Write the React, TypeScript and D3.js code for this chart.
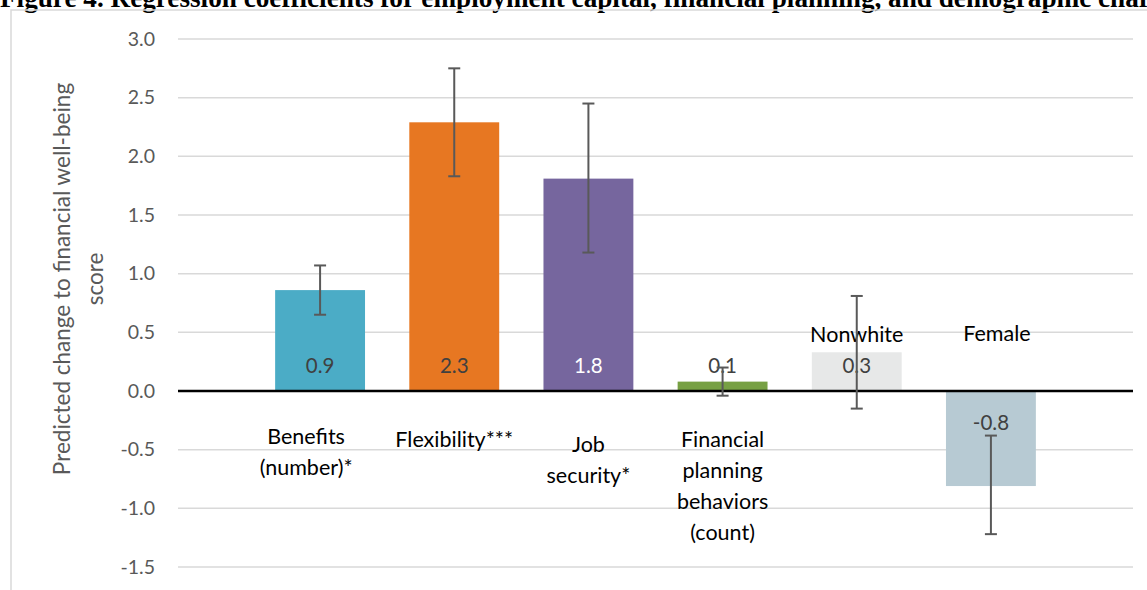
import React from "react";
import * as d3 from "d3";

// Regression coefficients with 95% confidence intervals
const categories = [
  "Benefits (number)*",
  "Flexibility***",
  "Job security*",
  "Financial planning behaviors (count)",
  "Nonwhite",
  "Female",
];
const categoryLines = [
  ["Benefits", "(number)*"],
  ["Flexibility***"],
  ["Job", "security*"],
  ["Financial", "planning", "behaviors", "(count)"],
  ["Nonwhite"],
  ["Female"],
];
const coefficients = [0.86, 2.29, 1.81, 0.08, 0.33, -0.81];
const ciLow = [0.65, 1.83, 1.18, -0.04, -0.15, -1.22];
const ciHigh = [1.07, 2.75, 2.45, 0.2, 0.81, -0.38];
const barColors = ["#4BACC6", "#E77722", "#76669E", "#77A043", "#E7E8E8", "#B7CAD3"];
const valueLabelColors = ["#404040", "#404040", "#FFFFFF", "#404040", "#404040", "#404040"];
const yTicks = [3.0, 2.5, 2.0, 1.5, 1.0, 0.5, 0.0, -0.5, -1.0, -1.5];

const title =
  "Figure 4. Regression coefficients for employment capital, financial planning, and demographic characteristics";
const yTitleLines = ["Predicted change to financial well-being", "score"];

// Category label placement (offset from band centre, first baseline, line spacing)
const labelLayout: Record<string, { dx: number; y: number; lh: number }> = {
  "Benefits (number)*": { dx: -14, y: 444, lh: 31 },
  "Flexibility***": { dx: 0, y: 447, lh: 31 },
  "Job security*": { dx: 0, y: 452, lh: 31 },
  "Financial planning behaviors (count)": { dx: 0, y: 447, lh: 31 },
  Nonwhite: { dx: 0, y: 342, lh: 31 },
  Female: { dx: 6, y: 341, lh: 31 },
};

const W = 1147;
const H = 590;
const FONT = "Lato, 'Open Sans', sans-serif";

// plain hyphen for negatives, one decimal place
const fmt1 = (v: number) => d3.format(".1f")(v).replace("\u2212", "-");

export default function App() {
  const plotLeft = 178;
  const plotRight = 1133;
  const y = d3.scaleLinear().domain([-1.5, 3.0]).range([567, 39]);
  const x = d3
    .scaleBand<string>()
    .domain(categories)
    .range([253, 1058])
    .paddingInner(0.33)
    .paddingOuter(0.165);
  const y0 = y(0);
  const bw = x.bandwidth();

  return (
    <svg
      width={W}
      height={H}
      style={{ position: "absolute", left: 0, top: 0, background: "#fff" }}
    >
      <text
        x={0}
        y={7}
        fontFamily="'Liberation Serif', 'Times New Roman', serif"
        fontWeight="bold"
        fontSize={27.2}
        fill="#000"
      >
        {title}
      </text>
      {/* chart frame */}
      <rect x={11} y={10} width={W} height={H} fill="none" stroke="#D9D9D9" strokeWidth={1.5} />

      {/* gridlines + tick labels */}
      {yTicks.map((t) => (
        <g key={t}>
          {t !== 0 && (
            <line x1={plotLeft} x2={plotRight} y1={y(t)} y2={y(t)} stroke="#D9D9D9" strokeWidth={1.5} />
          )}
          <text
            x={155}
            y={y(t)}
            dy="0.35em"
            textAnchor="end"
            fontFamily={FONT}
            fontSize={19.5}
            fill="#595959"
          >
            {fmt1(t)}
          </text>
        </g>
      ))}

      {/* y axis title */}
      <g transform={`translate(70, 279) rotate(-90)`}>
        {yTitleLines.map((l, i) => (
          <text
            key={i}
            x={0}
            y={i * 33}
            textAnchor="middle"
            fontFamily={FONT}
            fontSize={22.5}
            fill="#595959"
          >
            {l}
          </text>
        ))}
      </g>

      {/* bars */}
      {categories.map((c, i) => {
        const v = coefficients[i];
        return (
          <rect
            key={c}
            x={x(c)}
            y={Math.min(y(v), y0)}
            width={bw}
            height={Math.abs(y(v) - y0)}
            fill={barColors[i]}
          />
        );
      })}

      {/* value labels at bar base */}
      {categories.map((c, i) => {
        const v = coefficients[i];
        const cx = (x(c) as number) + bw / 2;
        return (
          <text
            key={c}
            x={cx}
            y={v >= 0 ? y0 - 18 : y0 + 39}
            textAnchor="middle"
            fontFamily={FONT}
            fontSize={20.5}
            fill={valueLabelColors[i]}
          >
            {fmt1(v)}
          </text>
        );
      })}

      {/* zero line */}
      <line x1={plotLeft} x2={plotRight} y1={y0} y2={y0} stroke="#000" strokeWidth={2.5} />

      {/* category labels */}
      {categories.map((c, i) => {
        const lay = labelLayout[c];
        const cx = (x(c) as number) + bw / 2 + lay.dx;
        return (
          <text
            key={c}
            textAnchor="middle"
            fontFamily={FONT}
            fontSize={21.5}
            fill="#000"
          >
            {categoryLines[i].map((l, j) => (
              <tspan key={j} x={cx} y={lay.y + j * lay.lh}>
                {l}
              </tspan>
            ))}
          </text>
        );
      })}

      {/* error bars */}
      {categories.map((c, i) => {
        const cx = (x(c) as number) + bw / 2;
        const lo = y(ciLow[i]);
        const hi = y(ciHigh[i]);
        return (
          <g key={c} stroke="#595959" strokeWidth={2}>
            <line x1={cx} x2={cx} y1={hi} y2={lo} />
            <line x1={cx - 6} x2={cx + 6} y1={hi} y2={hi} />
            <line x1={cx - 6} x2={cx + 6} y1={lo} y2={lo} />
          </g>
        );
      })}
    </svg>
  );
}
